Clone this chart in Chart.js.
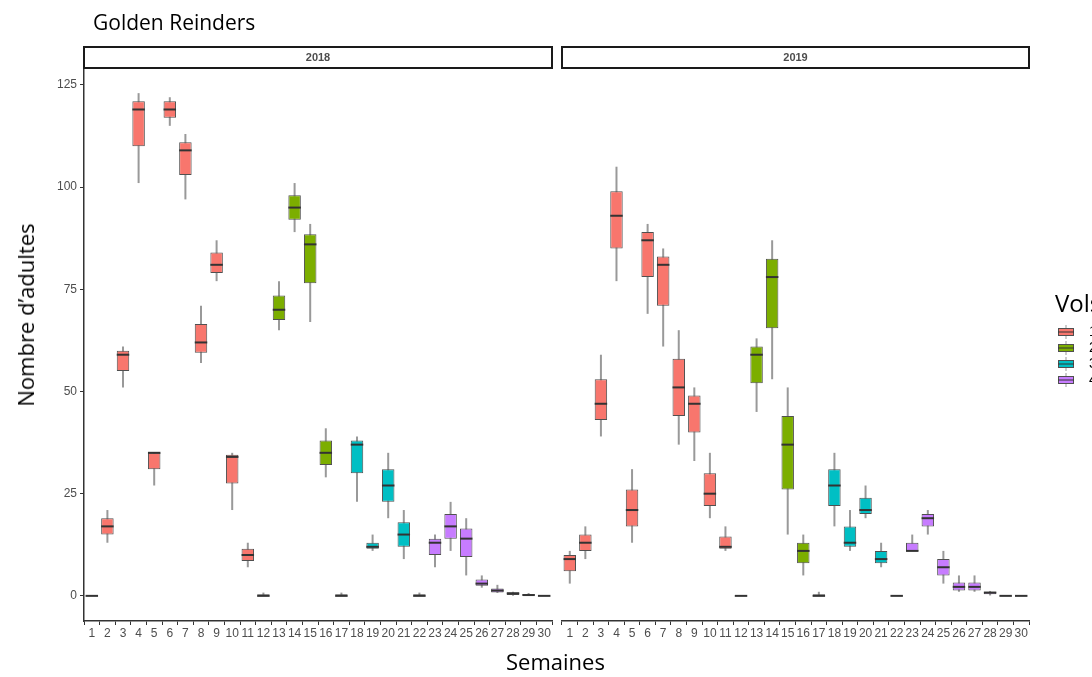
<!DOCTYPE html>
<html lang="fr">
<head>
<meta charset="utf-8">
<title>Golden Reinders</title>
<script src="https://cdn.jsdelivr.net/npm/chart.js@4.4.1/dist/chart.umd.min.js"></script>
<style>
    body {
        margin: 0;
        width: 1092px;
        height: 677px;
        overflow: hidden;
        position: relative;
        background: #ffffff;
        font-family: 'Open Sans', sans-serif;
    }
    .panel { position: absolute; top: 0; }
    .label { position: absolute; color: #000; white-space: nowrap; }
    #title { left: 93px; top: 8px; font-size: 21px; }
    #xTitle { left: 506px; top: 646px; font-size: 22px; }
    #yTitle { left: 25px; top: 315px; font-size: 22px; transform: translate(-50%, -50%) rotate(-90deg); }
    #legendTitle { left: 1055px; top: 286px; font-size: 24px; }
    .legend-item { position: absolute; left: 1089px; font-size: 14px; font-family: 'Liberation Sans', Arial, sans-serif; }
</style>
</head>
<body>
<div class="panel" style="left:0;width:557px;height:677px"><canvas id="chart2018" width="557" height="677"></canvas></div>
<div class="panel" style="left:557px;width:535px;height:677px"><canvas id="chart2019" width="535" height="677"></canvas></div>
<div class="label" id="title">Golden Reinders</div>
<div class="label" id="yTitle">Nombre d’adultes</div>
<div class="label" id="xTitle">Semaines</div>
<div class="label" id="legendTitle">Vols</div>
<div class="label legend-item" style="top:323px">1</div>
<div class="label legend-item" style="top:339px">2</div>
<div class="label legend-item" style="top:355px">3</div>
<div class="label legend-item" style="top:371px">4</div>
<script>
// Semaines 1..30
const weeks = Array.from({ length: 30 }, (_, i) => String(i + 1));

// Vol (1..4) for each week
const vols2018 = [1,1,1,1,1,1,1,1,1,1,1,1,2,2,2,2,2,3,3,3,3,3,4,4,4,4,4,4,4,4];
const vols2019 = [1,1,1,1,1,1,1,1,1,1,1,1,2,2,2,2,2,3,3,3,3,3,4,4,4,4,4,4,4,4];

// 2018 box stats
const min2018 = [0,13,51,101,27,115,97,57,77,21,7,0,65,89,67,29,0,23,11,19,9,0,7,11,5,2,0.7,0,0,0];
const q1_2018 = [0,15,55,110,31,117,103,59.5,79,27.5,8.5,0,67.5,92,76.5,32,0,30,11.5,23,12,0,10,14,9.5,2.5,0.8,0.2,0,0];
const med2018 = [0,17,59,119,35,119,109,62,81,34,10,0,70,95,86,35,0,37,12,27,15,0,13,17,14,3,1.3,0.6,0.2,0];
const q3_2018 = [0,19,60,121,35,121,111,66.5,84,34.5,11.5,0.4,73.5,98,88.5,38,0.4,38,13,31,18,0.4,14,20,16.5,4,1.8,0.9,0.4,0];
const max2018 = [0,21,61,123,35,122,113,71,87,35,13,0.8,77,101,91,41,0.8,39,15,35,21,0.8,15,23,19,5,2.7,1,0.7,0];

// 2019 box stats
const min2019 = [3,9,39,77,13,69,61,37,33,19,11,0,45,53,15,5,0,17,11,19,7,0,11,15,3,1,1,0.1,0,0];
const q1_2019 = [6,11,43,85,17,78,71,44,40,22,11.5,0,52,65.5,26,8,0,22,12,20,8,0,11,17,5,1.3,1.3,0.4,0,0];
const med2019 = [9,13,47,93,21,87,81,51,47,25,12,0,59,78,37,11,0,27,13,21,9,0,11,19,7,2.2,2.2,0.8,0,0];
const q3_2019 = [10,15,53,99,26,89,83,58,49,30,14.5,0,61,82.5,44,13,0.4,31,17,24,11,0,13,20,9,3.3,3.3,1,0,0];
const max2019 = [11,17,59,105,31,91,85,65,51,35,17,0,63,87,51,15,1,35,21,27,13,0,15,21,11,5,5,1.2,0,0];

// Y ticks
const yTicks = [0, 25, 50, 75, 100, 125];

document.addEventListener('DOMContentLoaded', function() {
    /**
     * STYLE
     */
    const volColors = ['#F8766D', '#7CAE00', '#00BFC4', '#C77CFF'];
    const boxBorder = '#505050';
    const whiskerColor = '#999999';
    const medianColor = '#333333';
    const axisColor = '#333333';
    const tickFont = { family: "'Liberation Sans', Arial, sans-serif", size: 12 };

    // Build one floating-bar dataset per vol
    const buildDatasets = (vols, q1, q3) => {
        return [1, 2, 3, 4].map(v => ({
            label: String(v),
            data: weeks.map((w, i) => vols[i] === v ? [q1[i], q3[i]] : null),
            backgroundColor: volColors[v - 1],
            borderColor: boxBorder,
            borderWidth: 1,
            borderSkipped: false,
            grouped: false,
            categoryPercentage: 1,
            barPercentage: 0.8
        }));
    };

    // Whiskers behind the boxes, medians on top
    const boxplotPlugin = (stats) => ({
        id: 'boxplotExtras',
        beforeDatasetsDraw(chart) {
            const { ctx, scales: { x, y } } = chart;
            ctx.save();
            ctx.strokeStyle = whiskerColor;
            ctx.lineWidth = 2;
            weeks.forEach((w, i) => {
                const px = x.getPixelForValue(i);
                ctx.beginPath();
                ctx.moveTo(px, y.getPixelForValue(stats.min[i]));
                ctx.lineTo(px, y.getPixelForValue(stats.max[i]));
                ctx.stroke();
            });
            ctx.restore();
        },
        afterDatasetsDraw(chart) {
            const { ctx, scales: { x, y } } = chart;
            const half = x.width / weeks.length * 0.8 / 2;
            ctx.save();
            ctx.strokeStyle = medianColor;
            ctx.lineWidth = 2;
            weeks.forEach((w, i) => {
                const px = x.getPixelForValue(i);
                const py = y.getPixelForValue(stats.med[i]);
                ctx.beginPath();
                ctx.moveTo(px - half, py);
                ctx.lineTo(px + half, py);
                ctx.stroke();
            });
            ctx.restore();
        }
    });

    // Facet strip above the panel
    const stripPlugin = (text) => ({
        id: 'facetStrip',
        afterDraw(chart) {
            const { ctx, chartArea } = chart;
            ctx.save();
            ctx.fillStyle = '#ffffff';
            ctx.strokeStyle = '#1a1a1a';
            ctx.lineWidth = 2;
            ctx.fillRect(chartArea.left, 47, chartArea.right - chartArea.left, 21);
            ctx.strokeRect(chartArea.left, 47, chartArea.right - chartArea.left, 21);
            ctx.fillStyle = '#4d4d4d';
            ctx.font = "bold 11px 'Liberation Sans', Arial, sans-serif";
            ctx.textAlign = 'center';
            ctx.textBaseline = 'middle';
            ctx.fillText(text, (chartArea.left + chartArea.right) / 2, 58);
            ctx.restore();
        }
    });

    // Legend keys (drawn on the right panel canvas)
    const legendPlugin = {
        id: 'volsLegend',
        afterDraw(chart) {
            const { ctx } = chart;
            const x0 = 1058 - 557;
            ctx.save();
            volColors.forEach((c, i) => {
                const cy = 332 + i * 16;
                ctx.strokeStyle = whiskerColor;
                ctx.lineWidth = 1;
                ctx.beginPath();
                ctx.moveTo(x0 + 8, cy - 7);
                ctx.lineTo(x0 + 8, cy + 7);
                ctx.stroke();
                ctx.fillStyle = c;
                ctx.fillRect(x0, cy - 4, 16, 8);
                ctx.strokeStyle = boxBorder;
                ctx.strokeRect(x0 + 0.5, cy - 3.5, 15, 7);
                ctx.strokeStyle = medianColor;
                ctx.beginPath();
                ctx.moveTo(x0, cy);
                ctx.lineTo(x0 + 16, cy);
                ctx.stroke();
            });
            ctx.restore();
        }
    };

    const makeOptions = (showY, padding) => ({
        responsive: false,
        animation: false,
        layout: { padding: padding },
        plugins: {
            legend: { display: false },
            tooltip: { enabled: false }
        },
        scales: {
            x: {
                type: 'category',
                offset: true,
                afterFit: (scale) => { scale.height = 56; },
                grid: {
                    display: true,
                    drawOnChartArea: false,
                    drawTicks: true,
                    tickLength: 4,
                    tickColor: axisColor
                },
                border: { display: true, color: axisColor, width: 1.5 },
                ticks: {
                    autoSkip: false,
                    maxRotation: 0,
                    minRotation: 0,
                    padding: 1,
                    color: '#4d4d4d',
                    font: tickFont
                }
            },
            y: {
                display: showY,
                min: -6.15,
                max: 129.15,
                afterFit: (scale) => { scale.width = showY ? 84 : 0; },
                afterBuildTicks: (scale) => { scale.ticks = yTicks.map(v => ({ value: v })); },
                grid: {
                    display: true,
                    drawOnChartArea: false,
                    drawTicks: true,
                    tickLength: 4,
                    tickColor: axisColor
                },
                border: { display: true, color: axisColor, width: 1.5 },
                ticks: {
                    padding: 3,
                    color: '#4d4d4d',
                    font: tickFont
                }
            }
        }
    });

    /**
     * CHARTS
     */
    new Chart(document.getElementById('chart2018'), {
        type: 'bar',
        data: { labels: weeks, datasets: buildDatasets(vols2018, q1_2018, q3_2018) },
        options: makeOptions(true, { top: 68, left: 0, right: 5, bottom: 0 }),
        plugins: [
            boxplotPlugin({ min: min2018, med: med2018, max: max2018 }),
            stripPlugin('2018')
        ]
    });

    new Chart(document.getElementById('chart2019'), {
        type: 'bar',
        data: { labels: weeks, datasets: buildDatasets(vols2019, q1_2019, q3_2019) },
        options: makeOptions(false, { top: 68, left: 5, right: 63, bottom: 0 }),
        plugins: [
            boxplotPlugin({ min: min2019, med: med2019, max: max2019 }),
            stripPlugin('2019'),
            legendPlugin
        ]
    });
});
</script>
</body>
</html>
